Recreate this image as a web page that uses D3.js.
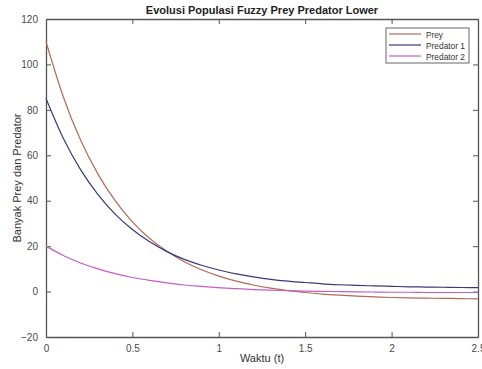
<!DOCTYPE html>
<html><head><meta charset="utf-8">
<script src="https://cdn.jsdelivr.net/npm/d3@7"></script>
<style>body{margin:0;background:#fff}svg{display:block}text{font-family:"Liberation Sans",Arial,sans-serif}</style>
</head><body>
<script>
const times = [0,0.1,0.2,0.3,0.4,0.5,0.6,0.7,0.8,0.9,1.0,1.1,1.2,1.3,1.4,1.5,1.6,1.7,1.8,1.9,2.0,2.1,2.2,2.3,2.4,2.5];
const prey = [110,85.8,66.7,51.8,40.0,30.7,23.4,17.7,13.1,9.6,6.8,4.6,2.9,1.5,0.4,-0.4,-1.1,-1.6,-2.0,-2.3,-2.6,-2.8,-2.9,-3.0,-3.1,-3.2];
const predator1 = [85,67.5,53.7,42.8,34.1,27.3,21.9,17.6,14.2,11.6,9.5,7.8,6.5,5.4,4.6,4.0,3.4,3.0,2.7,2.5,2.3,2.1,2.0,1.9,1.8,1.7];
const predator2 = [20,15.9,12.6,10.0,7.9,6.2,4.9,3.8,2.9,2.3,1.7,1.3,0.9,0.6,0.4,0.2,0.1,0.0,-0.1,-0.2,-0.3,-0.3,-0.4,-0.4,-0.4,-0.4];
const seriesNames = ["Prey","Predator 1","Predator 2"];
const xTicks = [0,0.5,1,1.5,2,2.5];
const yTicks = [-20,0,20,40,60,80,100,120];
const colors = ["#b46a55","#3a3a7a","#c45ec4"];

const W = 482, H = 369;
const L = 46, R = 478, T = 19, B = 337;
const svg = d3.select("body").append("svg").attr("width", W).attr("height", H);
const x = d3.scaleLinear().domain([0,2.5]).range([L,R]);
const y = d3.scaleLinear().domain([-20,120]).range([B,T]);

const axisColor = "#555";
const axBottom = svg.append("g").attr("transform",`translate(0,${B})`)
  .call(d3.axisBottom(x).tickValues(xTicks).tickFormat(d3.format("")).tickSizeInner(-5).tickSizeOuter(0).tickPadding(8));
const axTop = svg.append("g").attr("transform",`translate(0,${T})`)
  .call(d3.axisTop(x).tickValues(xTicks).tickFormat("").tickSizeInner(-5).tickSizeOuter(0));
const axLeft = svg.append("g").attr("transform",`translate(${L},0)`)
  .call(d3.axisLeft(y).tickValues(yTicks).tickSizeInner(-5).tickSizeOuter(0).tickPadding(8));
const axRight = svg.append("g").attr("transform",`translate(${R},0)`)
  .call(d3.axisRight(y).tickValues(yTicks).tickFormat("").tickSizeInner(-5).tickSizeOuter(0));
[axBottom,axTop,axLeft,axRight].forEach(g=>{
  g.selectAll("path").attr("stroke",axisColor).attr("stroke-width",1.3);
  g.selectAll("line").attr("stroke",axisColor);
  g.selectAll("text").attr("fill","#4a4a4a").attr("font-size",10);
});

const line = d3.line().x((d,i)=>x(times[i])).y(d=>y(d)).curve(d3.curveMonotoneX);
[prey,predator1,predator2].forEach((s,k)=>{
  svg.append("path").datum(s).attr("d",line).attr("fill","none")
    .attr("stroke",colors[k]).attr("stroke-width",1.2);
});

svg.append("text").attr("x",262).attr("y",14).attr("text-anchor","middle")
  .attr("font-size",11).attr("font-weight","bold").attr("fill","#222")
  .text("Evolusi Populasi Fuzzy Prey Predator Lower");
svg.append("text").attr("x",262).attr("y",362).attr("text-anchor","middle")
  .attr("font-size",11).attr("fill","#333").text("Waktu (t)");
svg.append("text").attr("transform","translate(21,178) rotate(-90)").attr("text-anchor","middle")
  .attr("font-size",11).attr("fill","#333").text("Banyak Prey dan Predator");

const lg = svg.append("g");
lg.append("rect").attr("x",386).attr("y",28).attr("width",83).attr("height",35)
  .attr("fill","#fff").attr("stroke","#666").attr("stroke-width",1);
seriesNames.forEach((n,i)=>{
  const yy = 34 + i*11;
  lg.append("line").attr("x1",389).attr("x2",421).attr("y1",yy).attr("y2",yy)
    .attr("stroke",colors[i]).attr("stroke-width",1.2);
  lg.append("text").attr("x",426).attr("y",yy+3.5).attr("font-size",9.5)
    .attr("textLength", i===0 ? 17 : 39).attr("lengthAdjust","spacingAndGlyphs")
    .attr("fill","#333").text(n);
});
</script>
</body></html>
